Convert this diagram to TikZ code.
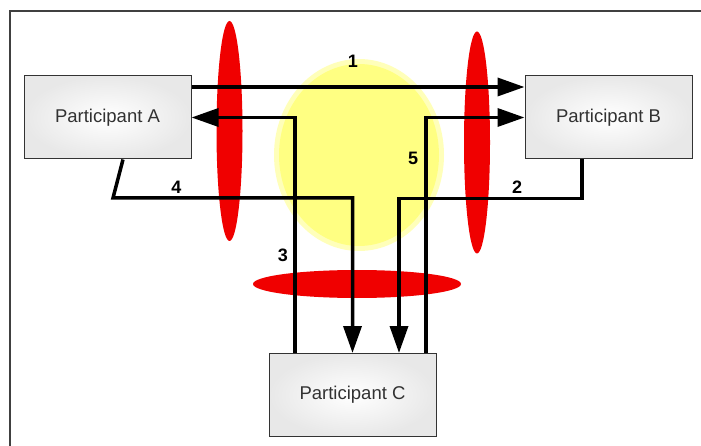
\documentclass[tikz,border=0pt]{standalone}
\usepackage{fontspec}
\setmainfont{Liberation Sans}
\usetikzlibrary{arrows.meta,calc}
\definecolor{redfill}{RGB}{240,0,0}
\definecolor{yel}{RGB}{255,255,130}
\definecolor{txt}{RGB}{50,50,50}
\tikzset{
  part/.style={draw=black!80, line width=1pt, inner color=white, outer color=black!9,
    minimum width=167pt, minimum height=83pt, text=txt, font=\fontsize{18.5}{22}\selectfont},
  conn/.style={line width=3.5pt, black},
  arr/.style={conn, -{Triangle[length=27pt,width=18pt]}},
  num/.style={font=\bfseries\fontsize{18}{22}\selectfont, text=black},
  lens/.style={fill=redfill, draw=none}
}
\begin{document}
\begin{tikzpicture}[x=1pt,y=-1pt]
\useasboundingbox (0,0) rectangle (701,446);
\clip (0,0) rectangle (701,446);
\fill[white] (0,0) rectangle (701,446);
\draw[black!75, line width=1.3pt] (10,11) rectangle (760,500);
% yellow zone
\fill[yel!55] (359,155) ellipse [x radius=85, y radius=96];
\fill[yel] (359,155) ellipse [x radius=80, y radius=91];
% red lenses
\fill[lens] (229.5,131) ellipse [x radius=13, y radius=110];
\fill[lens] (477,142.5) ellipse [x radius=13, y radius=111];
\fill[lens] (357,284) ellipse [x radius=104, y radius=14];
% participants
\node[part] (A) at (107.5,117.5) {Participant A};
\node[part] (B) at (608.5,117.5) {Participant B};
\node[part] (C) at (352.5,395) {Participant C};
\coordinate (k4) at (113,198);
% connectors
\draw[arr] ($(A.east)+(0,-30.5)$) -- ($(B.west)+(0,-30.5)$);
\draw[arr] ($(C.north)+(-57.5,0)$) |- (A.east);
\draw[arr] ($(A.south)+(15.5,0)$) -- (k4) -| (C.north);
\draw[arr] ($(B.south)+(-26.5,0)$) -- ++(0,39) -| ($(C.north)+(46.5,0)$);
\draw[arr] ($(C.north)+(73.5,0)$) |- (B.west);
% labels
\node[num] (n1) at (353,61) {1};
\node[num] (n4) at (176.5,187) {4};
\node[num] (n2) at (517,187) {2};
\node[num] (n5) at (413,158) {5};
\node[num] (n3) at (283,255) {3};
\end{tikzpicture}
\end{document}
